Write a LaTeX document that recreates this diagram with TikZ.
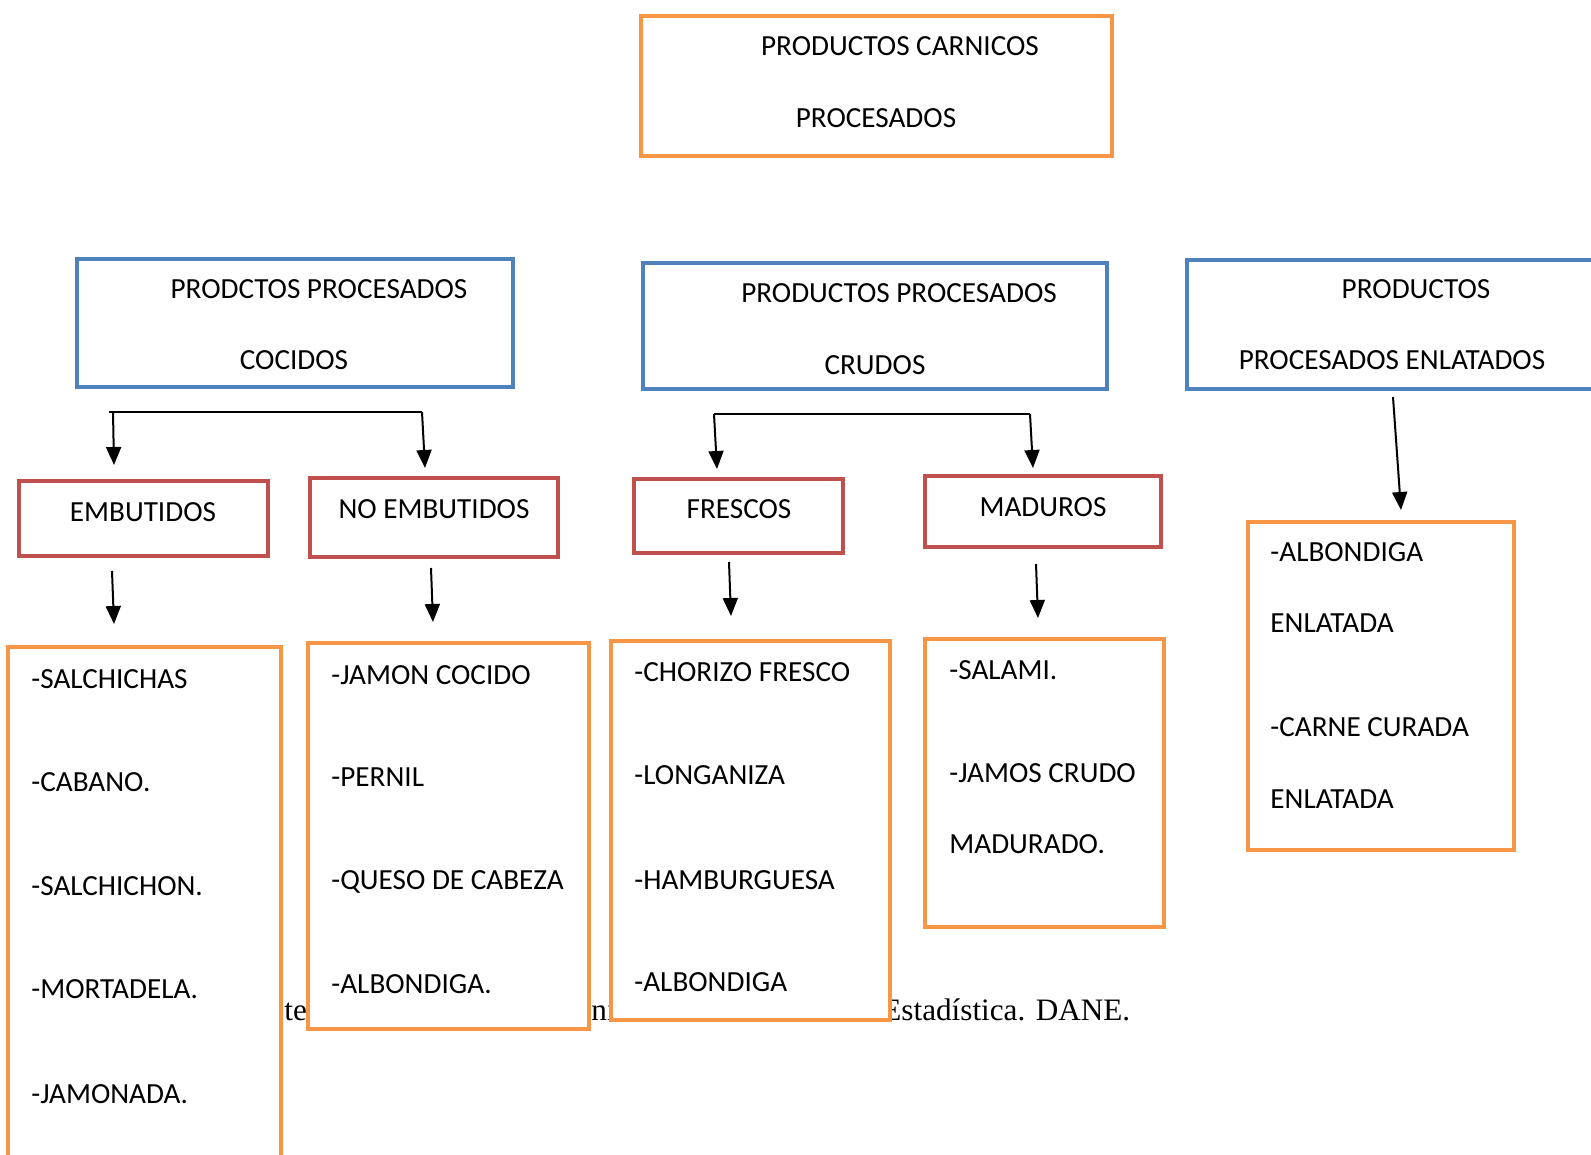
\documentclass[tikz,border=0pt]{standalone}
\usepackage{fontspec}
\setmainfont{Carlito}
\newfontfamily\timesf{Liberation Serif}
\usetikzlibrary{arrows.meta,fit}
\definecolor{orng}{HTML}{F79646}
\definecolor{blu}{HTML}{4F81BD}
\definecolor{rd}{HTML}{C0504D}
\begin{document}
\begin{tikzpicture}[x=0.5pt,y=-0.5pt,
  box/.style={draw, line width=2.3pt, fill=white, inner sep=0pt},
  obox/.style={box, draw=orng},
  bbox/.style={box, draw=blu},
  rbox/.style={box, draw=rd},
  lbl/.style={inner sep=0pt, anchor=base, font=\fontsize{14.6pt}{17pt}\selectfont},
  item/.style={inner sep=0pt, anchor=base west, font=\fontsize{14.6pt}{17pt}\selectfont},
  bgtxt/.style={inner sep=0pt, anchor=base west, font=\timesf\fontsize{15.6pt}{18pt}\selectfont},
  conn/.style={line width=0.9pt},
  arr/.style={line width=1pt, -{Triangle[width=7.5pt,length=9pt]}}
]
\useasboundingbox[fill=white] (0,0) rectangle (1591,1155);

% background text fragments (partly covered by boxes)
\node[bgtxt] (bg1) at (284,1020) {te};
\node[bgtxt] (bg2) at (591,1020) {ni};
\node[bgtxt] (bg3) at (882,1020) {Estadística. DANE.};

% top box
\node[obox, fit={(641,16) (1112,156)}] (top) {};
\node[lbl] (top1) at (900,56) {PRODUCTOS CARNICOS};
\node[lbl] (top2) at (876,128) {PROCESADOS};

% blue boxes
\node[bbox, fit={(77,259) (513,387)}] (coc) {};
\node[lbl] (coc1) at (319,299) {PRODCTOS PROCESADOS};
\node[lbl] (coc2) at (294,370) {COCIDOS};

\node[bbox, fit={(643,263) (1107,389)}] (cru) {};
\node[lbl] (cru1) at (899,303) {PRODUCTOS PROCESADOS};
\node[lbl] (cru2) at (875,374) {CRUDOS};

\node[bbox, fit={(1187,260) (1620,389)}] (enl) {};
\node[lbl] (enl1) at (1416,299) {PRODUCTOS};
\node[lbl] (enl2) at (1392,370) {PROCESADOS ENLATADOS};

% red boxes
\node[rbox, fit={(19,481) (268,556)}] (emb) {};
\node[lbl] (emb1) at (143,521) {EMBUTIDOS};
\node[rbox, fit={(310,478) (558,557)}] (noemb) {};
\node[lbl] (noemb1) at (434,518) {NO EMBUTIDOS};
\node[rbox, fit={(634,479) (843,553)}] (fre) {};
\node[lbl] (fre1) at (739,518) {FRESCOS};
\node[rbox, fit={(925,476) (1161,547)}] (mad) {};
\node[lbl] (mad1) at (1043,516) {MADUROS};

% orange list boxes
\node[obox, fit={(8,647) (281,1180)}] (l1) {};
\node[item] (l1a) at (31,688) {-SALCHICHAS};
\node[item] (l1b) at (31,791) {-CABANO.};
\node[item] (l1c) at (31,895) {-SALCHICHON.};
\node[item] (l1d) at (31,998) {-MORTADELA.};
\node[item] (l1e) at (31,1103) {-JAMONADA.};

\node[obox, fit={(308,643) (589,1029)}] (l2) {};
\node[item] (l2a) at (331,684) {-JAMON COCIDO};
\node[item] (l2b) at (331,786) {-PERNIL};
\node[item] (l2c) at (331,889) {-QUESO DE CABEZA};
\node[item] (l2d) at (331,993) {-ALBONDIGA.};

\node[obox, fit={(611,641) (890,1020)}] (l3) {};
\node[item] (l3a) at (634,681) {-CHORIZO FRESCO};
\node[item] (l3b) at (634,784) {-LONGANIZA};
\node[item] (l3c) at (634,889) {-HAMBURGUESA};
\node[item] (l3d) at (634,991) {-ALBONDIGA};

\node[obox, fit={(925,639) (1164,927)}] (l4) {};
\node[item] (l4a) at (949,679) {-SALAMI.};
\node[item] (l4b) at (949,782) {-JAMOS CRUDO};
\node[item] (l4c) at (949,853) {MADURADO.};

\node[obox, fit={(1248,522) (1514,850)}] (l5) {};
\node[item] (l5a) at (1270,561) {-ALBONDIGA};
\node[item] (l5b) at (1270,632) {ENLATADA};
\node[item] (l5c) at (1270,736) {-CARNE CURADA};
\node[item] (l5d) at (1270,808) {ENLATADA};

% connectors
\coordinate (b1l) at (109,412);
\coordinate (b1r) at (422,412);
\coordinate (b1la) at (113,412);
\coordinate (e1) at (114,465);
\coordinate (e2) at (425,468);
\draw[conn] (b1l) -- (b1r);
\draw[arr] (b1la) -- (e1);
\draw[arr] (b1r) -- (e2);

\coordinate (b2l) at (714,414);
\coordinate (b2r) at (1030,414);
\coordinate (e3) at (717,469);
\coordinate (e4) at (1033,468);
\draw[conn] (b2l) -- (b2r);
\draw[arr] (b2l) -- (e3);
\draw[arr] (b2r) -- (e4);

\coordinate (s5) at (112,571);  \coordinate (e5) at (114,624);
\coordinate (s6) at (431,568);  \coordinate (e6) at (433,622);
\coordinate (s7) at (729,562);  \coordinate (e7) at (731,616);
\coordinate (s8) at (1036,564); \coordinate (e8) at (1038,618);
\coordinate (s9) at (1393,397); \coordinate (e9) at (1401,510);
\draw[arr] (s5) -- (e5);
\draw[arr] (s6) -- (e6);
\draw[arr] (s7) -- (e7);
\draw[arr] (s8) -- (e8);
\draw[arr] (s9) -- (e9);
\end{tikzpicture}
\end{document}
